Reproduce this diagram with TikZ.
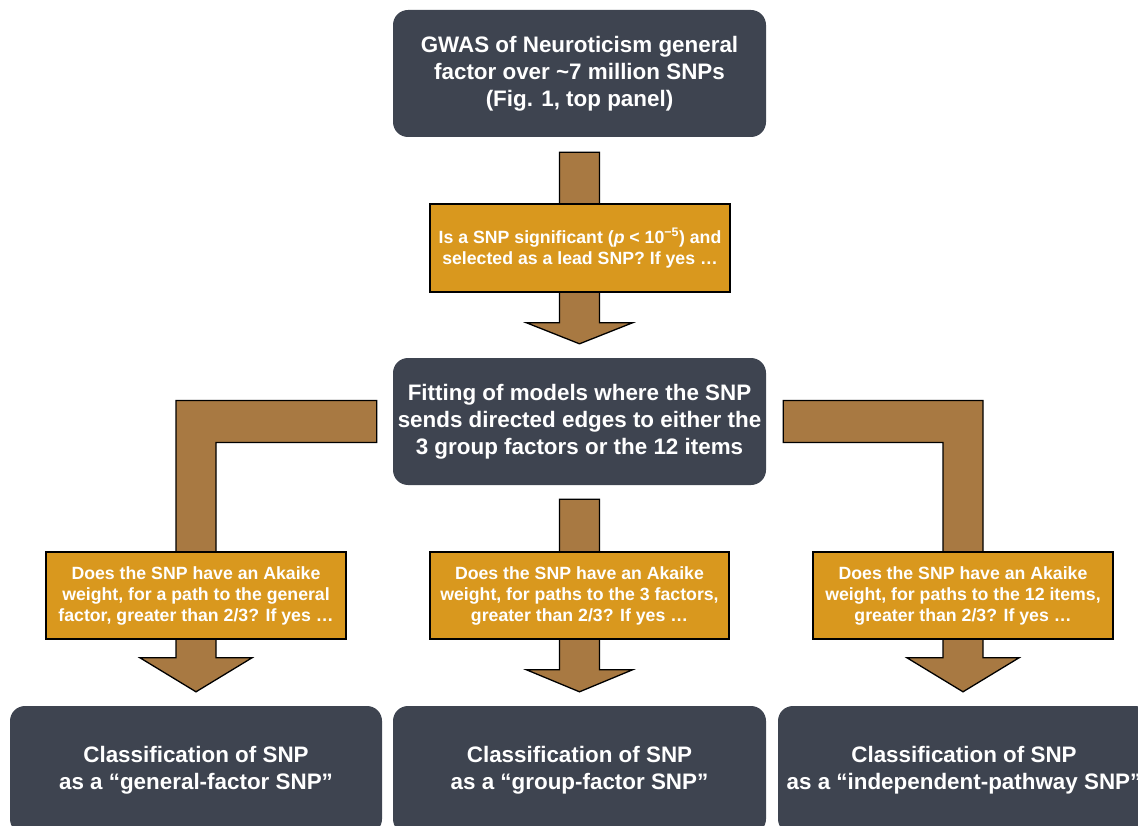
\documentclass[tikz,border=0pt]{standalone}
\usepackage{fontspec}
\setmainfont{Liberation Sans}
\usetikzlibrary{calc,backgrounds}
\definecolor{darkbox}{RGB}{62,68,80}
\definecolor{gold}{RGB}{217,152,30}
\definecolor{brownarr}{RGB}{168,121,66}
\newcommand\fatarrow[5]{% start, tip, head height, half shaft, half head
  \draw[fat] let \p1=(#1), \p2=(#2) in
    (\x1-#4,\y1) -- (\x1+#4,\y1) -- (\x1+#4,\y2+#3) -- (\x1+#5,\y2+#3) --
    (\x1,\y2) -- (\x1-#5,\y2+#3) -- (\x1-#4,\y2+#3) -- cycle;}
\begin{document}
\begin{tikzpicture}[x=1pt,y=-1pt,
  dark/.style={fill=darkbox, rounded corners=15pt, text=white,
    font=\bfseries\fontsize{22.4}{27}\selectfont, align=center, inner sep=0pt},
  question/.style={fill=gold, draw=black, line width=1.3pt, text=white,
    font=\bfseries\fontsize{17.7}{21}\selectfont, align=center, inner sep=0pt},
  fat/.style={fill=brownarr, draw=black, line width=1.3pt, line join=miter}]
\useasboundingbox (0,0) rectangle (1138,826);
\clip (0,0) rectangle (1138,826);

% dark boxes
\node[dark, minimum width=373pt, minimum height=127pt] (gwas) at (579.5,73.5)
  {GWAS of Neuroticism general\\factor over \textasciitilde7 million SNPs\\(Fig. 1, top panel)};
\node[dark, minimum width=373pt, minimum height=127pt] (fit) at (579.5,421.5)
  {Fitting of models where the SNP\\sends directed edges to either the\\3 group factors or the 12 items};
\node[dark, minimum width=372pt, minimum height=128pt] (cL) at (196,770)
  {Classification of SNP\\as a “general-factor SNP”};
\node[dark, minimum width=373pt, minimum height=128pt] (cM) at (579.5,770)
  {Classification of SNP\\as a “group-factor SNP”};
\node[dark, minimum width=372pt, minimum height=128pt] (cR) at (964,770)
  {Classification of SNP\\as a “independent-pathway SNP”};

% question boxes
\node[question, minimum width=300pt, minimum height=88pt] (q1) at (580,248)
  {Is a SNP significant (\textit{p} < 10\textsuperscript{−5}) and\\selected as a lead SNP? If yes …};
\node[question, minimum width=300pt, minimum height=87pt] (qL) at (196,595.5)
  {Does the SNP have an Akaike\\weight, for a path to the general\\factor, greater than 2/3? If yes …};
\node[question, minimum width=299pt, minimum height=87pt] (qM) at (579.5,595.5)
  {Does the SNP have an Akaike\\weight, for paths to the 3 factors,\\greater than 2/3? If yes …};
\node[question, minimum width=300pt, minimum height=87pt] (qR) at (963,595.5)
  {Does the SNP have an Akaike\\weight, for paths to the 12 items,\\greater than 2/3? If yes …};

\begin{scope}[on background layer]
  % top arrow
  \coordinate (t1s) at ($(gwas.south)+(0,15)$);
  \coordinate (t1e) at ($(fit.north)+(0,-14)$);
  \fatarrow{t1s}{t1e}{21pt}{20pt}{53pt}
  % middle arrow
  \coordinate (tMs) at ($(fit.south)+(0,14)$);
  \coordinate (tMe) at ($(cM.north)+(0,-14)$);
  \fatarrow{tMs}{tMe}{22pt}{20pt}{53pt}
  % left L arrow
  \coordinate (lS) at ($(fit.west)+(-16,0)$);
  \coordinate (lE) at ($(qL.center |- cL.north)+(0,-14)$);
  \draw[fat] let \p1=(lS), \p2=(lE) in
    (\x1,\y1+21pt) -- (\x2-20pt,\y1+21pt) -- (\x2-20pt,\y2+34pt) -- (\x2-56pt,\y2+34pt) --
    (\x2,\y2) -- (\x2+56pt,\y2+34pt) -- (\x2+20pt,\y2+34pt) -- (\x2+20pt,\y1-21pt) --
    (\x1,\y1-21pt) -- cycle;
  % right L arrow
  \coordinate (rS) at ($(fit.east)+(17,0)$);
  \coordinate (rE) at ($(qR.center |- cR.north)+(0,-14)$);
  \draw[fat] let \p1=(rS), \p2=(rE) in
    (\x1,\y1+21pt) -- (\x2+20pt,\y1+21pt) -- (\x2+20pt,\y2+34pt) -- (\x2+56pt,\y2+34pt) --
    (\x2,\y2) -- (\x2-56pt,\y2+34pt) -- (\x2-20pt,\y2+34pt) -- (\x2-20pt,\y1-21pt) --
    (\x1,\y1-21pt) -- cycle;
\end{scope}
\end{tikzpicture}
\end{document}
